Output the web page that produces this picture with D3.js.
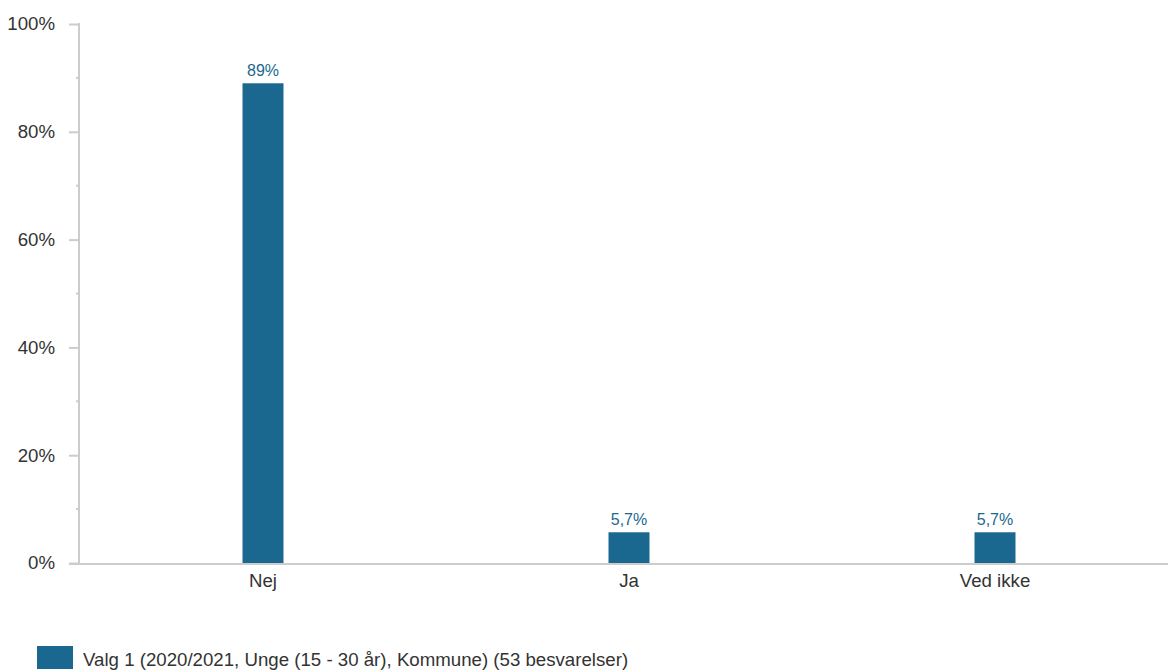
<!DOCTYPE html>
<html><head><meta charset="utf-8">
<script src="https://cdn.jsdelivr.net/npm/d3@7"></script>
<style>body{margin:0;background:#fff;} svg{display:block;font-family:"Liberation Sans",Arial,sans-serif;}</style>
</head><body>
<svg id="c" width="1168" height="670"></svg>
<script>
const categories = ["Nej", "Ja", "Ved ikke"];
const values = [89, 5.7, 5.7];
const valueLabels = ["89%", "5,7%", "5,7%"];
const yTicks = [0, 20, 40, 60, 80, 100];
const yMinorTicks = [10, 30, 50, 70, 90];
const seriesName = "Valg 1 (2020/2021, Unge (15 - 30 år), Kommune) (53 besvarelser)";

const color = "#1a6890";
const axisColor = "#cccccc";
const svg = d3.select("#c");
const x0 = 80, x1 = 1178, yTop = 24, yBot = 563;

const x = d3.scaleBand().domain(categories).range([x0, x1]);
const y = d3.scaleLinear().domain([0, 100]).range([yBot, yTop]);
const barW = 41;

// y axis
const ya = svg.append("g").attr("transform", `translate(${x0},0)`);
ya.call(d3.axisLeft(y).tickValues(yTicks).tickSize(11).tickFormat(d => d + "%"));
ya.select(".domain").remove();
ya.selectAll(".tick line").attr("stroke", axisColor).attr("stroke-width", 2);
ya.selectAll(".tick text").attr("fill", "#333").style("font-size", "18.67px").attr("x", -25).attr("dy", "0.32em");
ya.selectAll(".minor").data(yMinorTicks).enter().append("line")
  .attr("x1", -4).attr("x2", 0).attr("y1", d => y(d)).attr("y2", d => y(d))
  .attr("stroke", axisColor).attr("stroke-width", 2);
svg.append("line").attr("x1", x0 - 1).attr("x2", x0 - 1).attr("y1", yTop - 1).attr("y2", yBot + 1)
  .attr("stroke", axisColor).attr("stroke-width", 2);

// bars
svg.selectAll(".bar").data(values).enter().append("rect")
  .attr("x", (d, i) => x(categories[i]) + x.bandwidth() / 2 - barW / 2)
  .attr("width", barW)
  .attr("y", d => y(d))
  .attr("height", d => yBot - y(d))
  .attr("fill", color);

svg.selectAll(".vl").data(values).enter().append("text")
  .attr("x", (d, i) => x(categories[i]) + x.bandwidth() / 2)
  .attr("y", d => y(d) - 7)
  .attr("text-anchor", "middle")
  .attr("fill", color).style("font-size", "16px")
  .text((d, i) => valueLabels[i]);

// x axis
svg.append("line").attr("x1", 69).attr("x2", 1168).attr("y1", yBot + 1).attr("y2", yBot + 1)
  .attr("stroke", axisColor).attr("stroke-width", 2);
svg.selectAll(".xl").data(categories).enter().append("text")
  .attr("x", d => x(d) + x.bandwidth() / 2)
  .attr("y", 587)
  .attr("text-anchor", "middle").attr("fill", "#333").style("font-size", "18.67px")
  .text(d => d);

// legend
svg.append("rect").attr("x", 37).attr("y", 646).attr("width", 36).attr("height", 23).attr("fill", color);
svg.append("text").attr("x", 83).attr("y", 666).attr("fill", "#333").style("font-size", "18.67px").text(seriesName);
</script>
</body></html>
